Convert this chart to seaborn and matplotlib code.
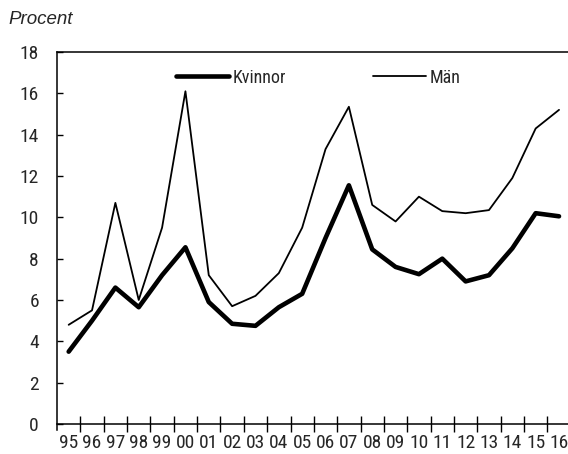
import matplotlib
matplotlib.use("Agg")
import matplotlib.pyplot as plt
from matplotlib import font_manager as fm
import seaborn as sns
import pandas as pd

ar = ["95", "96", "97", "98", "99", "00", "01", "02", "03", "04", "05",
      "06", "07", "08", "09", "10", "11", "12", "13", "14", "15", "16"]
kvinnor = [3.5, 5.0, 6.6, 5.65, 7.2, 8.55, 5.9, 4.85, 4.75, 5.65, 6.3,
           9.0, 11.55, 8.45, 7.6, 7.25, 8.0, 6.9, 7.2, 8.5, 10.2, 10.05]
man = [4.8, 5.5, 10.7, 6.0, 9.5, 16.1, 7.2, 5.7, 6.2, 7.3, 9.5,
       13.3, 15.35, 10.6, 9.8, 11.0, 10.3, 10.2, 10.35, 11.9, 14.3, 15.2]

sns.set_style("white")

# smal font om det finns en
namn = {f.name for f in fm.fontManager.ttflist}
smal = None
for kand in ["Liberation Sans Narrow", "Roboto Condensed", "Open Sans Condensed",
             "DejaVu Sans Condensed"]:
    if kand in namn:
        smal = kand
        break
if smal is None:
    smal = "DejaVu Sans"
plt.rcParams['font.family'] = [smal, 'DejaVu Sans']
plt.rcParams['font.stretch'] = 'condensed'

df = pd.DataFrame({
    "pos": list(range(len(ar))) * 2,
    "varde": kvinnor + man,
    "kon": ["Kvinnor"] * len(ar) + ["Män"] * len(ar),
})

fig = plt.figure(figsize=(5.68, 4.54), dpi=100)
ax = fig.add_axes([57 / 568, 1 - 424 / 454, (570.7 - 57) / 568, (424 - 52) / 454])

sns.lineplot(data=df, x="pos", y="varde", hue="kon", size="kon",
             sizes={"Kvinnor": 3.3, "Män": 1.3},
             palette={"Kvinnor": "black", "Män": "black"}, ax=ax, legend=False)

# legend by hand, two entries without frame
l1, = ax.plot([], [], color="black", lw=3.3, solid_capstyle="round")
l2, = ax.plot([], [], color="black", lw=1.3)
ax.legend([l1, l2], ["Kvinnor", "Män"], ncol=2, frameon=False,
          loc="upper left", bbox_to_anchor=(0.232, 0.955), borderpad=0,
          borderaxespad=0, handlelength=2.93, handletextpad=0.22,
          columnspacing=4.8, fontsize=13)

ax.set_xlim(-0.5, 21.5)
ax.set_ylim(0, 18)
ax.set_xticks(range(len(ar)))
ax.set_xticklabels(ar)
ax.set_xticks([i + 0.5 for i in range(len(ar) - 1)], minor=True)
ax.tick_params(axis="x", which="major", bottom=True, length=0, pad=7, labelsize=14)
ax.tick_params(axis="x", which="minor", bottom=True, direction="inout", length=11,
               width=1, color="black")
ax.set_yticks(range(0, 19, 2))
ax.tick_params(axis="y", left=True, direction="in", length=4, width=1, pad=13,
               labelsize=14, color="black")

ax.set_xlabel("")
ax.set_ylabel("")
for s in ["left", "top", "bottom"]:
    ax.spines[s].set_color("black")
    ax.spines[s].set_linewidth(1.1)
ax.spines["right"].set_visible(False)
ax.spines["left"].set_bounds(-0.3, 18)

fig.text(8 / 568, 1 - 19 / 454, "Procent", fontsize=13.5, style="italic",
         family="Liberation Sans", stretch="normal", va="center", ha="left")

fig.savefig("out.png", dpi=100)
